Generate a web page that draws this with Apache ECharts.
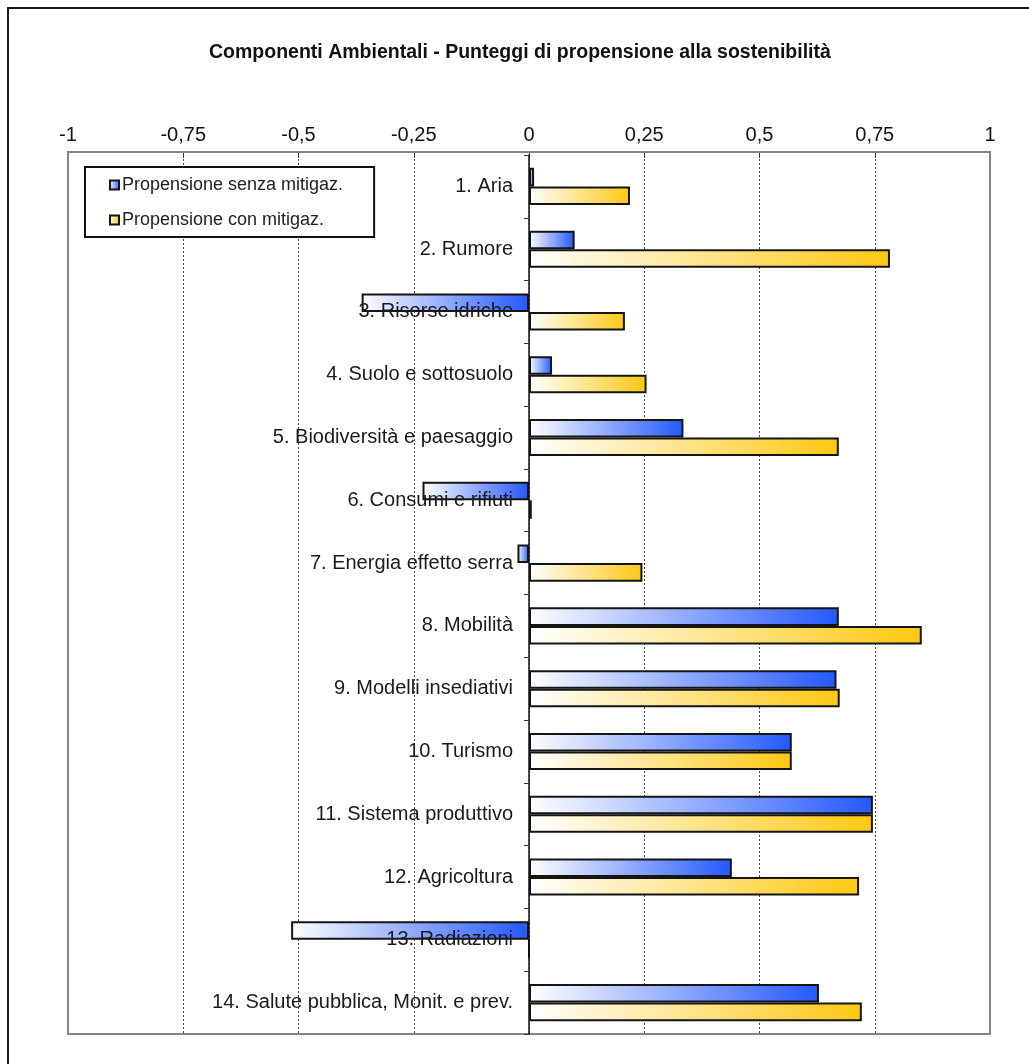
<!DOCTYPE html>
<html>
<head>
<meta charset="utf-8">
<script src="https://cdn.jsdelivr.net/npm/echarts@6/dist/echarts.min.js"></script>
<style>
  html, body { margin: 0; padding: 0; background: #ffffff; }
  #chart { width: 1029px; height: 1064px; }
</style>
</head>
<body>
<div id="chart"></div>
<script>
// Environmental components and their sustainability scores
const categories = [
  '1. Aria',
  '2. Rumore',
  '3. Risorse idriche',
  '4. Suolo e sottosuolo',
  '5. Biodiversità e paesaggio',
  '6. Consumi e rifiuti',
  '7. Energia effetto serra',
  '8. Mobilità',
  '9. Modelli insediativi',
  '10. Turismo',
  '11. Sistema produttivo',
  '12. Agricoltura',
  '13. Radiazioni',
  '14. Salute pubblica, Monit. e prev.'
];
const senzaMitigazione = [0.011, 0.099, -0.363, 0.05, 0.335, -0.231, -0.025, 0.672, 0.667, 0.57, 0.746, 0.44, -0.516, 0.629];
const conMitigazione   = [0.219, 0.783, 0.208, 0.255, 0.672, 0.006, 0.246, 0.852, 0.674, 0.57, 0.746, 0.716, 0, 0.722];
const tickValues = [-1, -0.75, -0.5, -0.25, 0, 0.25, 0.5, 0.75, 1];
const tickLabels = ['-1', '-0,75', '-0,5', '-0,25', '0', '0,25', '0,5', '0,75', '1'];
const seriesNames = ['Propensione senza mitigaz.', 'Propensione con mitigaz.'];

const FONT = '"Liberation Sans", Arial, sans-serif';
const W = 1029;
const H = 1064;
const GRID_LEFT = 68;
const GRID_RIGHT = 39;
const GRID_TOP = 155;
const GRID_BOTTOM = 30;
const FRAME_TOP = 152;   // plot frame / value axis line sits slightly above the category bands
// horizontal distance from the plot's left edge to the value 0
const ZERO_SHIFT = (W - GRID_LEFT - GRID_RIGHT) / 2;

function fade(endColor) {
  return new echarts.graphic.LinearGradient(0, 0, 1, 0, [
    { offset: 0, color: '#ffffff' },
    { offset: 1, color: endColor }
  ]);
}

const chart = echarts.init(document.getElementById('chart'), null, { renderer: 'canvas' });

chart.setOption({
  backgroundColor: '#ffffff',
  animation: false,
  title: {
    text: 'Componenti Ambientali - Punteggi di propensione alla sostenibilità',
    left: 204,
    top: 38,
    textStyle: { fontFamily: FONT, fontSize: 19.5, fontWeight: 'bold', color: '#111' }
  },
  graphic: [
    {
      type: 'rect',
      shape: { x: 8, y: 8, width: 1060, height: 1090 },
      style: { fill: 'none', stroke: '#1a1a1a', lineWidth: 2 },
      silent: true
    },
    {
      type: 'rect',
      z: 1,
      shape: { x: GRID_LEFT, y: FRAME_TOP, width: W - GRID_LEFT - GRID_RIGHT, height: H - GRID_BOTTOM - FRAME_TOP },
      style: { fill: 'none', stroke: '#858585', lineWidth: 2 },
      silent: true
    }
  ],
  legend: {
    orient: 'vertical',
    left: 85,
    top: 167,
    backgroundColor: '#ffffff',
    borderColor: '#111',
    borderWidth: 2,
    padding: [9, 31, 8, 24],
    itemGap: 17,
    itemWidth: 9,
    itemHeight: 9,
    icon: 'rect',
    textStyle: { fontFamily: FONT, fontSize: 18, color: '#222', lineHeight: 17, padding: [0, 0, 0, -2] },
    data: seriesNames
  },
  grid: {
    left: GRID_LEFT,
    right: GRID_RIGHT,
    top: GRID_TOP,
    bottom: GRID_BOTTOM,
    show: false,
    containLabel: false,
    outerBoundsMode: 'none'
  },
  xAxis: {
    type: 'value',
    position: 'top',
    offset: GRID_TOP - FRAME_TOP,
    min: -1,
    max: 1,
    interval: 0.25,
    axisLine: { show: true, lineStyle: { color: '#8a8a8a', width: 2 } },
    axisTick: { show: true, inside: true, length: 6, lineStyle: { color: '#333', width: 1 } },
    axisLabel: {
      margin: 7,
      fontFamily: FONT,
      fontSize: 20,
      color: '#111',
      formatter: function (v) {
        const i = tickValues.findIndex(t => Math.abs(t - v) < 1e-9);
        return i >= 0 ? tickLabels[i] : '';
      }
    },
    splitLine: { show: true, lineStyle: { color: '#444', width: 1, type: [2, 2] } }
  },
  yAxis: {
    type: 'category',
    inverse: true,
    data: categories,
    z: 10,
    offset: -ZERO_SHIFT,
    axisLine: { show: true, onZero: false, lineStyle: { color: '#111', width: 1.5 } },
    axisTick: { show: true, length: 5, lineStyle: { color: '#333' } },
    axisLabel: { margin: 16, fontFamily: FONT, fontSize: 20, color: '#1a1a1a' },
    splitLine: { show: false }
  },
  series: [
    {
      name: seriesNames[0],
      type: 'bar',
      data: senzaMitigazione,
      barGap: '0%',
      barCategoryGap: '41%',
      itemStyle: { color: fade('#2458ff'), borderColor: '#151515', borderWidth: 2 }
    },
    {
      name: seriesNames[1],
      type: 'bar',
      data: conMitigazione,
      barGap: '0%',
      barCategoryGap: '41%',
      itemStyle: { color: fade('#ffc812'), borderColor: '#151515', borderWidth: 2 }
    }
  ]
});
</script>
</body>
</html>
